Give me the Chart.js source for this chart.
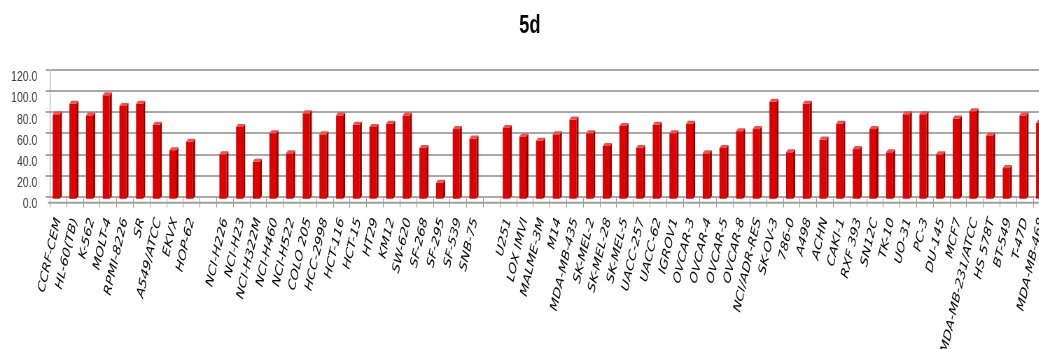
<!DOCTYPE html>
<html>
<head>
<meta charset="utf-8">
<script src="https://cdn.jsdelivr.net/npm/chart.js@4"></script>
<style>
  html, body { margin: 0; padding: 0; background: #fff; overflow: hidden; width: 1039px; height: 349px; }
  #wrap { width: 1526px; height: 349px; transform: scaleX(0.7); transform-origin: 0 0; }
  canvas { display: block; }
</style>
</head>
<body>
<div id="wrap"><canvas id="c" width="1526" height="349"></canvas></div>
<script>
const chartTitle = '5d';
const categories = [
  'CCRF-CEM','HL-60(TB)','K-562','MOLT-4','RPMI-8226','SR','A549/ATCC','EKVX','HOP-62','',
  'NCI-H226','NCI-H23','NCI-H322M','NCI-H460','NCI-H522','COLO 205','HCC-2998','HCT-116','HCT-15','HT29',
  'KM12','SW-620','SF-268','SF-295','SF-539','SNB-75','','U251','LOX IMVI','MALME-3M',
  'M14','MDA-MB-435','SK-MEL-2','SK-MEL-28','SK-MEL-5','UACC-257','UACC-62','IGROV1','OVCAR-3','OVCAR-4',
  'OVCAR-5','OVCAR-8','NCI/ADR-RES','SK-OV-3','786-0','A498','ACHN','CAKI-1','RXF 393','SN12C',
  'TK-10','UO-31','PC-3','DU-145','MCF7','MDA-MB-231/ATCC','HS 578T','BT-549','T-47D','MDA-MB-468'
];
const values = [
  81, 91, 80, 99, 89, 91, 71, 47, 55, null,
  43, 69, 36, 63, 44, 82, 62, 80, 71, 69,
  72, 80, 49, 16, 67, 58, null, 68, 60, 56,
  62, 76, 63, 51, 70, 49, 71, 63, 72, 44,
  49, 65, 67, 93, 45, 91, 57, 72, 48, 67,
  45, 81, 81, 43, 77, 84, 61, 30, 80, 73
];
const yMin = 0, yMax = 120, yStep = 20;

const DX = 3, DY = 3;
const bars3d = {
  id: 'bars3d',
  beforeDatasetsDraw(chart) {
    chart.ctx.save();
    chart.ctx.translate(-DX, DY);
  },
  afterDatasetsDraw(chart) {
    const ctx = chart.ctx;
    const meta = chart.getDatasetMeta(0);
    meta.data.forEach((el, i) => {
      if (values[i] == null) return;
      const p = el.getProps(['x', 'y', 'base', 'width'], true);
      const l = p.x - p.width / 2, r = p.x + p.width / 2;
      ctx.fillStyle = '#8e0000';
      ctx.beginPath();
      ctx.moveTo(r, p.y); ctx.lineTo(r + DX, p.y - DY); ctx.lineTo(r + DX, p.base - DY); ctx.lineTo(r, p.base);
      ctx.closePath(); ctx.fill();
      ctx.fillStyle = '#f05050';
      ctx.beginPath();
      ctx.moveTo(l, p.y); ctx.lineTo(l + DX, p.y - DY); ctx.lineTo(r + DX, p.y - DY); ctx.lineTo(r, p.y);
      ctx.closePath(); ctx.fill();
    });
    ctx.restore();
    // front edge of the floor
    const a = chart.chartArea;
    ctx.save();
    ctx.strokeStyle = '#a0a0a0';
    ctx.lineWidth = 2;
    ctx.beginPath();
    ctx.moveTo(a.left - DX, a.bottom + 6);
    ctx.lineTo(a.right, a.bottom + 6);
    ctx.stroke();
    ctx.restore();
  }
};

new Chart(document.getElementById('c'), {
  type: 'bar',
  data: {
    labels: categories,
    datasets: [{
      data: values,
      backgroundColor: '#e00000',
      borderWidth: 0,
      barPercentage: 0.42,
      categoryPercentage: 1.0,
      clip: false
    }]
  },
  options: {
    responsive: false,
    animation: false,
    devicePixelRatio: 1,
    layout: { padding: { left: 14, right: 26, top: 0, bottom: 0 } },
    plugins: {
      legend: { display: false },
      tooltip: { enabled: false },
      title: {
        display: true,
        text: chartTitle,
        color: '#000',
        font: { family: 'Liberation Sans', size: 26, weight: 'bold' },
        padding: { top: 10, bottom: 29 }
      }
    },
    scales: {
      x: {
        offset: true,
        grid: { offset: true, drawOnChartArea: false, drawTicks: true, tickLength: 11, color: '#9a9a9a', lineWidth: 1 },
        border: { display: true, color: '#a8a8a8', width: 2 },
        ticks: {
          autoSkip: false, minRotation: 72, maxRotation: 72, padding: 8,
          color: '#000',
          font: { family: 'DejaVu Sans', size: 15, style: 'italic' }
        },
        afterFit(scale) { scale.height = 349 - 196.7; }
      },
      y: {
        min: yMin, max: yMax,
        grid: { color: '#a8a8a8', lineWidth: 2, drawTicks: true, tickLength: 6 },
        border: { display: true, color: '#9a9a9a', width: 1 },
        ticks: {
          stepSize: yStep, padding: 12, labelOffset: 7,
          color: '#404040',
          font: { family: 'Liberation Sans', size: 15 },
          callback: v => Number(v).toFixed(1)
        },
        afterFit(scale) { scale.width = 71.4 - 14; }
      }
    }
  },
  plugins: [bars3d]
});
</script>
</body>
</html>
